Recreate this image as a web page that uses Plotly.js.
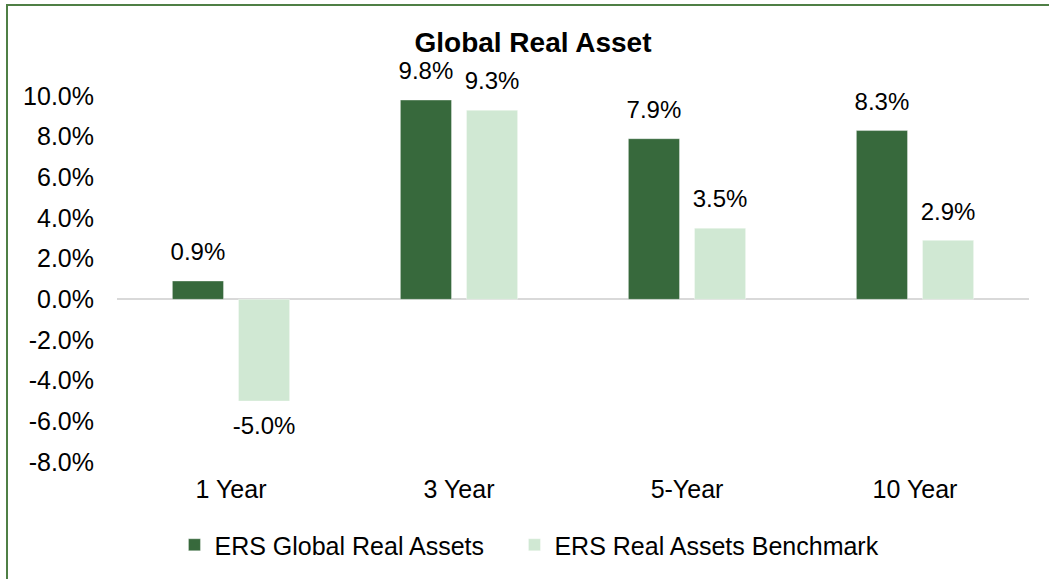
<!DOCTYPE html>
<html><head><meta charset="utf-8">
<script src="https://cdn.plot.ly/plotly-3.0.1.min.js"></script>
<style>
html,body{margin:0;padding:0;background:#fff;}
#wrap{position:relative;width:1049px;height:579px;overflow:hidden;}
#chart{width:1049px;height:579px;}
#frame{position:absolute;left:6px;top:4px;width:1100px;height:700px;border-left:2px solid #4f7f45;border-top:2px solid #4f7f45;pointer-events:none;}
</style></head>
<body><div id="wrap"><div id="chart"></div><div id="frame"></div></div>
<script>
const categories = ['1 Year', '3 Year', '5-Year', '10 Year'];
const ersGlobal = [0.9, 9.8, 7.9, 8.3];
const ersBenchmark = [-5.0, 9.3, 3.5, 2.9];
const tickVals = [-8, -6, -4, -2, 0, 2, 4, 6, 8, 10];
const tickText = tickVals.map(v => v.toFixed(1) + '%');
const fmt = v => v.toFixed(1) + '%';
const pos = v => v < 0 ? 'bottom center' : 'top center';

const font = 'Liberation Sans, Arial, sans-serif';
const GAP = 0.42;
function barTrace(name, vals, color, grp, leg) {
  return {type:'bar', name:name, x:categories, y:vals, offsetgroup:grp, alignmentgroup:'a', legend:leg,
    marker:{color:color, line:{color:'rgba(255,255,255,0.35)', width:1}}, hoverinfo:'none'};
}
function labelTrace(vals, grp) {
  return {type:'scatter', mode:'markers+text', x:categories, y:vals, offsetgroup:grp, alignmentgroup:'a',
    text:vals.map(fmt), textposition:vals.map(pos), showlegend:false, cliponaxis:false,
    marker:{size:22, opacity:0, color:'#fff'}, textfont:{family:font,size:24,color:'#000'}, hoverinfo:'none'};
}
const traces = [
  barTrace('ERS Global Real Assets', ersGlobal, '#37693c', 'g1', 'legend'),
  barTrace('ERS Real Assets Benchmark', ersBenchmark, '#d0e8d3', 'g2', 'legend2'),
  labelTrace(ersGlobal, 'g1'),
  labelTrace(ersBenchmark, 'g2')
];
const legendBase = {orientation:'h', xanchor:'left', y:(463-545)/367, yanchor:'middle',
  font:{family:font,size:25,color:'#000'}, itemwidth:30, tracegroupgap:0, itemclick:false, bgcolor:'rgba(0,0,0,0)'};
const layout = {
  width:1049, height:579,
  margin:{l:117, r:20, t:96, b:116},
  paper_bgcolor:'#fff', plot_bgcolor:'#fff',
  font:{family:font, size:25, color:'#000'},
  title:{text:'<b>Global Real Asset</b>', font:{family:font,size:28,color:'#000'},
         x:533/1049, xref:'container', xanchor:'center', y:1-42/579, yref:'container', yanchor:'middle'},
  barmode:'group', bargap:GAP, bargroupgap:0.227,
  scattermode:'group', scattergap:GAP,
  xaxis:{showline:false, showgrid:false, ticks:'', tickfont:{family:font,size:25,color:'#000'}, ticklabelstandoff:10, fixedrange:true},
  yaxis:{range:[-8,10], tickvals:tickVals, ticktext:tickText, showgrid:false, showline:false,
         zeroline:true, zerolinecolor:'#d9d9d9', zerolinewidth:2, ticks:'',
         tickfont:{family:font,size:25,color:'#000'}, ticklabelstandoff:22, fixedrange:true},
  showlegend:true,
  legend:Object.assign({}, legendBase, {x:0.063}),
  legend2:Object.assign({}, legendBase, {x:0.4358}),
};
Plotly.newPlot('chart', traces, layout, {displayModeBar:false, staticPlot:true});
</script></body></html>
